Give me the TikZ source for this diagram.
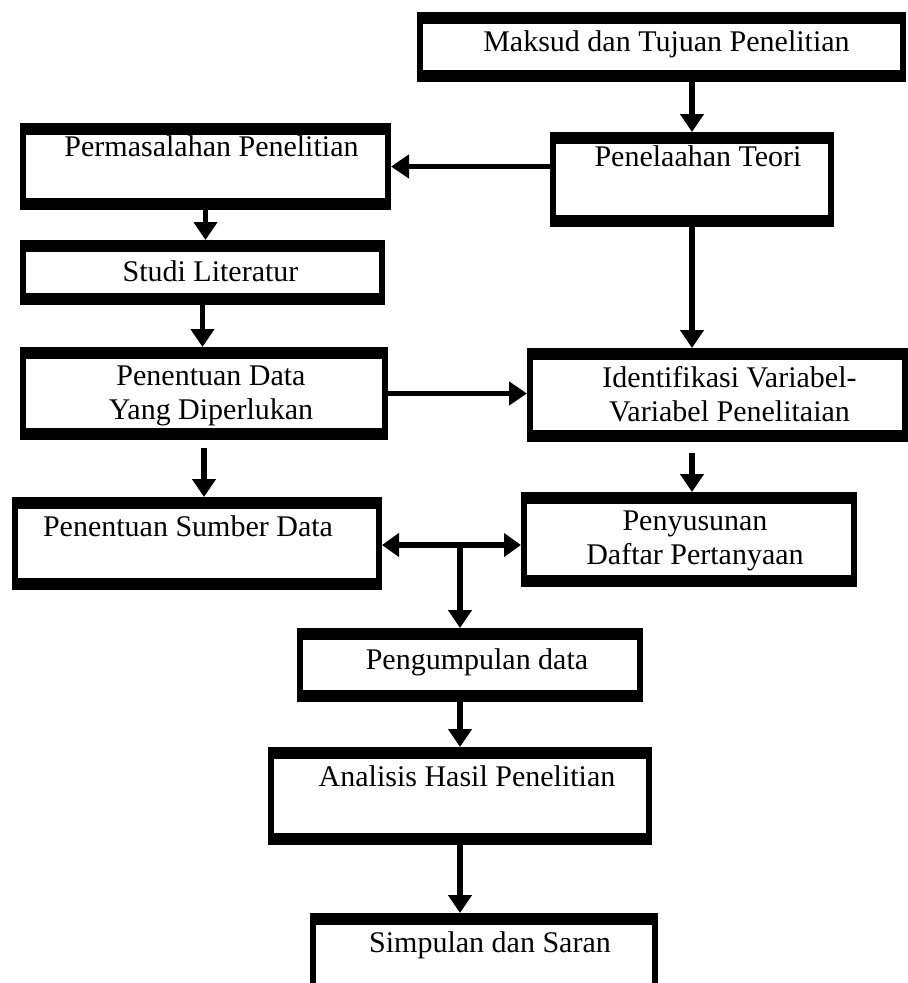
\documentclass[tikz,border=0pt]{standalone}
\usepackage{fontspec}
\setmainfont{Liberation Serif}
\usetikzlibrary{arrows.meta}
\tikzset{
  boxn/.style={draw, line width=6pt, inner sep=0pt, rectangle},
  arr/.style={line width=5.5pt, -{Triangle[length=18pt,width=23pt]}},
  dbl/.style={line width=5.5pt, {Triangle[length=17pt,width=23pt]}-{Triangle[length=17pt,width=23pt]}}
}
\newcommand\flowbox[8]{%
  \node[boxn, minimum width={(#4-#2-6)*1pt}, minimum height={(#5-#3-6)*1pt}] (#1) at ({(#2+#4)/2},{(#3+#5)/2})
   {\parbox[c][\dimexpr #5pt-#3pt-6pt\relax][t]{\dimexpr #4pt-#2pt-6pt\relax}{\vspace*{\dimexpr #6pt-3pt\relax}\centering\leftskip=#7pt plus 1fil\relax #8}};
  \fill (#1.north west) rectangle ([shift={(0,12)}]#1.north east);
  \fill ([shift={(0,-12)}]#1.south west) rectangle (#1.south east);
}
\begin{document}
\begin{tikzpicture}[x=1pt,y=-1pt]
\useasboundingbox (0,0) rectangle (908,983);
\clip (0,0) rectangle (908,983);
\fontsize{30}{34}\selectfont
\flowbox{maksud}{417}{12}{906}{82}{19}{10}{Maksud dan Tujuan Penelitian}
\flowbox{teori}{550}{132}{834}{227}{14}{12}{Penelaahan Teori}
\flowbox{masalah}{20}{123}{391}{210}{13}{12}{Permasalahan Penelitian}
\flowbox{studi}{20}{240}{385}{305}{21}{16}{Studi Literatur}
\flowbox{data}{20}{347}{388}{440}{19}{14}{Penentuan Data\\Yang Diperlukan}
\flowbox{identif}{527}{348}{908}{442}{18}{24}{Identifikasi Variabel-\\Variabel Penelitaian}
\flowbox{sumber}{12}{497}{382}{590}{19}{-18}{Penentuan Sumber Data}
\flowbox{susun}{521}{492}{857}{587}{19}{12}{Penyusunan\\Daftar Pertanyaan}
\flowbox{kumpul}{297}{628}{643}{702}{21}{14}{Pengumpulan data}
\flowbox{analisis}{268}{747}{652}{845}{19}{14}{Analisis Hasil Penelitian}
\flowbox{simpulan}{310}{913}{658}{995}{19}{12}{Simpulan dan Saran}

\draw[arr] (teori.north |- maksud.south) -- (teori.north);
\draw[arr] (teori.west |- masalah.east) -- (masalah.east);
\draw[arr] (masalah.south) -- (masalah.south |- studi.north);
\draw[arr] (studi.south) -- (studi.south |- data.north);
\draw[arr] (teori.south) -- (teori.south |- identif.north);
\draw[arr] (data.east) -- (data.east -| identif.west);
\draw[arr] ([yshift=-8pt]data.south) -- (data.south |- sumber.north);
\draw[arr] ([yshift=-11pt]teori.south |- identif.south) -- (teori.south |- susun.north);
\coordinate (j) at (460,545);
\draw[dbl] (sumber.east |- j) -- (susun.west |- j);
\draw[arr] (j) -- (j |- kumpul.north);
\draw[arr] (analisis.north |- kumpul.south) -- (analisis.north);
\draw[arr] (analisis.south) -- (analisis.south |- simpulan.north);
\end{tikzpicture}
\end{document}
